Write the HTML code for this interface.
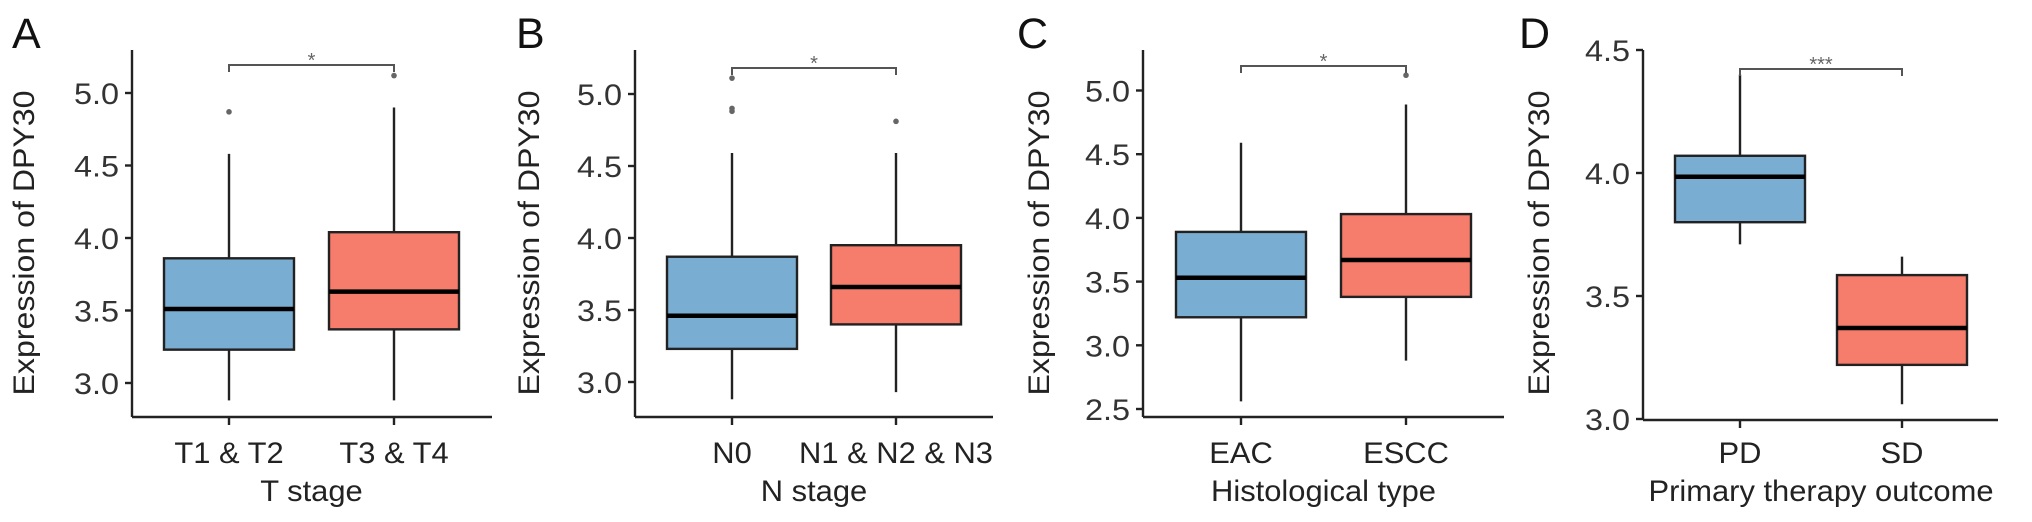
<!DOCTYPE html>
<html><head><meta charset="utf-8"><style>
html,body{margin:0;padding:0;background:#fff;}
svg{display:block;font-family:"Liberation Sans",Arial,sans-serif;}
</style></head><body>
<svg id="chart" width="2032" height="522" viewBox="0 0 2032 522" xmlns="http://www.w3.org/2000/svg"></svg>
<script>
// Panel A – T stage
const catsA = ["T1 & T2", "T3 & T4"];
const loA = [2.88, 2.88];
const q1A = [3.23, 3.37];
const medA = [3.51, 3.63];
const q3A = [3.86, 4.04];
const hiA = [4.58, 4.90];
const outA = [[4.87], [5.12]];
const ticksA = [3.0, 3.5, 4.0, 4.5, 5.0];
// Panel B – N stage
const catsB = ["N0", "N1 & N2 & N3"];
const loB = [2.88, 2.93];
const q1B = [3.23, 3.40];
const medB = [3.46, 3.66];
const q3B = [3.87, 3.95];
const hiB = [4.59, 4.59];
const outB = [[4.88, 4.90, 5.11], [4.81]];
const ticksB = [3.0, 3.5, 4.0, 4.5, 5.0];
// Panel C – Histological type
const catsC = ["EAC", "ESCC"];
const loC = [2.56, 2.88];
const q1C = [3.22, 3.38];
const medC = [3.53, 3.67];
const q3C = [3.89, 4.03];
const hiC = [4.59, 4.89];
const outC = [[], [5.12]];
const ticksC = [2.5, 3.0, 3.5, 4.0, 4.5, 5.0];
// Panel D – Primary therapy outcome
const catsD = ["PD", "SD"];
const loD = [3.71, 3.06];
const q1D = [3.80, 3.22];
const medD = [3.985, 3.37];
const q3D = [4.07, 3.585];
const hiD = [4.40, 3.66];
const outD = [[], []];
const ticksD = [3.0, 3.5, 4.0, 4.5];

const NS = "http://www.w3.org/2000/svg";
const svg = document.getElementById("chart");
function mk(tag, attrs, parent) {
  const e = document.createElementNS(NS, tag);
  for (const k in attrs) e.setAttribute(k, attrs[k]);
  (parent || svg).appendChild(e);
  return e;
}
const fills = ["#7aadd2", "#f67c6b"];
const SX = 1.08;

function panel(id, letter, letterX, cfg, cats, lo, q1, med, q3, hi, outs, ticks, xTitle, sig) {
  const g = mk("g", {});
  
  
  const y = v => cfg.p0 - (v - cfg.v0) * cfg.pxPer;
  const xs = cfg.centers;
  const L = mk("text", {x: letterX, y: 48, "font-size": 43, fill: "#111"}, g);
  L.textContent = letter;
  
  
  const ya = mk("line", {x1: cfg.ax, y1: 50, x2: cfg.ax, y2: cfg.bottom, stroke: "#222", "stroke-width": 2.4}, g);
  
  
  const xa = mk("line", {x1: cfg.ax, y1: cfg.bottom, x2: cfg.xEnd, y2: cfg.bottom, stroke: "#222", "stroke-width": 2.4}, g);
  
  
  ticks.forEach(t => {
    const tk = mk("line", {x1: cfg.ax - 7, y1: y(t), x2: cfg.ax, y2: y(t), stroke: "#222", "stroke-width": 2.4}, g);
    
    
    const tx = cfg.ax - 13;
    const tl = mk("text", {x: 0, y: 0, "font-size": 30, fill: "#333", "text-anchor": "end",
      transform: `translate(${tx},${y(t) + 11}) scale(${SX},1)`}, g);
    tl.textContent = t.toFixed(1);
    
    
  });
  const yt = mk("text", {x: 0, y: 0, "font-size": 30, fill: "#222", "text-anchor": "middle",
    textLength: 305, lengthAdjust: "spacingAndGlyphs",
    transform: `translate(${cfg.ax - cfg.titleOff},243) rotate(-90)`}, g);
  yt.textContent = "Expression of DPY30";
  
  
  cats.forEach((c, i) => {
    const cx = xs[i], hw = 65;
    const tk = mk("line", {x1: cx, y1: cfg.bottom, x2: cx, y2: cfg.bottom + 8, stroke: "#222", "stroke-width": 2.4}, g);
    
    
    const xl = mk("text", {x: 0, y: 0, "font-size": 30, fill: "#222", "text-anchor": "middle",
      transform: `translate(${cx},463) scale(1.03,1)`}, g);
    xl.textContent = c;
    
    
    const w1 = mk("line", {x1: cx, y1: y(hi[i]), x2: cx, y2: y(q3[i]), stroke: "#222", "stroke-width": 2.4}, g);
    
    
    const w2 = mk("line", {x1: cx, y1: y(q1[i]), x2: cx, y2: y(lo[i]), stroke: "#222", "stroke-width": 2.4}, g);
    
    
    const b = mk("rect", {x: cx - hw, y: y(q3[i]), width: 2 * hw, height: y(q1[i]) - y(q3[i]), fill: fills[i], stroke: "#222", "stroke-width": 2.4}, g);
    
    
    const m = mk("line", {x1: cx - hw, y1: y(med[i]), x2: cx + hw, y2: y(med[i]), stroke: "#000", "stroke-width": 4.5}, g);
    
    
    outs[i].forEach(o => {
      const p = mk("circle", {cx: cx, cy: y(o), r: 2.8, fill: "#666"}, g);
      
      
    });
  });
  const xt = mk("text", {x: 0, y: 0, "font-size": 30, fill: "#222", "text-anchor": "middle",
    transform: `translate(${(xs[0] + xs[1]) / 2},501) scale(1.03,1)`}, g);
  xt.textContent = xTitle;
  
  
  const by = cfg.bracketY;
  const br = mk("path", {d: `M${xs[0]},${by + 7} V${by} H${xs[1]} V${by + 7}`, fill: "none", stroke: "#555", "stroke-width": 2}, g);
  
  
  const st = mk("text", {x: (xs[0] + xs[1]) / 2, y: by + 2, "font-size": 20, fill: "#666", "text-anchor": "middle"}, g);
  st.textContent = sig;
  
  
}

panel("a", "A", 12, {ax: 132, bottom: 417, xEnd: 492, v0: 3.0, p0: 383, pxPer: 145, centers: [229, 394], titleOff: 98, bracketY: 65},
  catsA, loA, q1A, medA, q3A, hiA, outA, ticksA, "T stage", "*");
panel("b", "B", 516, {ax: 635, bottom: 417, xEnd: 993, v0: 3.0, p0: 382, pxPer: 144, centers: [732, 896], titleOff: 96, bracketY: 68},
  catsB, loB, q1B, medB, q3B, hiB, outB, ticksB, "N stage", "*");
panel("c", "C", 1017, {ax: 1143, bottom: 417, xEnd: 1504, v0: 2.5, p0: 409, pxPer: 127.4, centers: [1241, 1406], titleOff: 94, bracketY: 66},
  catsC, loC, q1C, medC, q3C, hiC, outC, ticksC, "Histological type", "*");
panel("d", "D", 1519, {ax: 1643, bottom: 420, xEnd: 1998, v0: 3.0, p0: 419, pxPer: 246, centers: [1740, 1902], titleOff: 94, bracketY: 69},
  catsD, loD, q1D, medD, q3D, hiD, outD, ticksD, "Primary therapy outcome", "***");
</script>
</body></html>
